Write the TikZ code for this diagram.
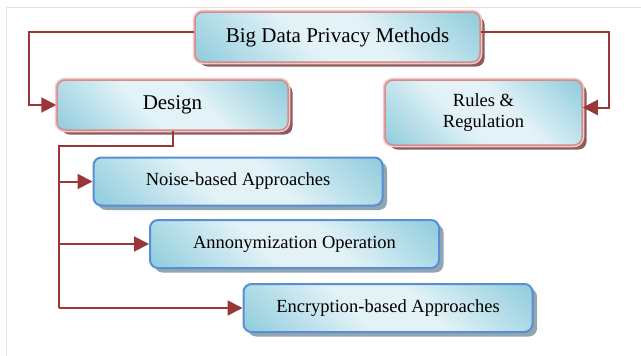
\documentclass[tikz,border=0pt]{standalone}
\usepackage{fontspec}
\setmainfont{Liberation Serif}
\usetikzlibrary{arrows.meta,shadows}

\definecolor{linkred}{RGB}{155,54,54}
\definecolor{framepink}{RGB}{245,218,218}
\definecolor{boxlight}{RGB}{226,242,247}
\definecolor{boxdark}{RGB}{150,207,222}
\definecolor{pinkrim}{RGB}{242,200,200}
\definecolor{pinkedge}{RGB}{212,140,140}
\definecolor{pinkshadow}{RGB}{140,92,92}
\definecolor{blueedge}{RGB}{88,142,216}
\definecolor{blueshadow}{RGB}{146,166,176}

\pgfdeclarehorizontalshading{boxfill}{100bp}{color(0bp)=(boxdark); color(17bp)=(boxdark); color(42bp)=(boxlight); color(58bp)=(boxlight); color(83bp)=(boxdark); color(100bp)=(boxdark)}

\tikzset{
  box/.style={rounded corners=8pt, inner sep=0pt, shading=boxfill, shading angle=45},
  headbox/.style={box, font=\fontsize{21}{24}\selectfont,
    drop shadow={shadow xshift=4.5pt, shadow yshift=-4.5pt, fill=pinkshadow, opacity=1},
    preaction={draw=pinkrim, line width=4.5pt}, draw=pinkedge, line width=1.5pt},
  subbox/.style={box, font=\fontsize{18.5}{21}\selectfont, minimum width=289pt, minimum height=48pt,
    drop shadow={shadow xshift=4.5pt, shadow yshift=-4.5pt, fill=blueshadow, opacity=1},
    draw=blueedge, line width=2pt},
  trunk/.style={draw=linkred, line width=2pt},
  link/.style={trunk, -{Triangle[length=15pt,width=15pt]}}
}

\begin{document}
\begin{tikzpicture}[x=1pt,y=-1pt]
  \useasboundingbox (0,0) rectangle (641,356);
  % page frame
  \draw[framepink, line width=1pt] (6,356) -- (6,7) -- (641,7);

  % upper level
  \node[headbox, minimum width=285pt, minimum height=50pt] (top) at (337.5,37) {Big Data Privacy Methods};
  \node[headbox, minimum width=231pt, minimum height=50pt] (design) at (172.5,105) {Design};
  \node[headbox, minimum width=197pt, minimum height=65pt, align=center,
        font=\fontsize{18.5}{21}\selectfont] (rules) at (483.5,112.5) {Rules \&\\Regulation};

  % design methods
  \node[subbox] (noise) at (238,181.5) {Noise-based Approaches};
  \node[subbox] (anon) at (294.5,244) {Annonymization Operation};
  \node[subbox] (crypt) at (388,308) {Encryption-based Approaches};

  \coordinate (L) at (29,105);
  \coordinate (R) at (609,107.5);
  \draw[link] ([yshift=5pt]top.west) -| (L) -- (design.west);
  \draw[link] ([yshift=5pt]top.east) -| (R) -- ([yshift=5pt]rules.east);

  \coordinate (T0) at (59,146);
  \coordinate (T3) at (59,308);
  \draw[trunk] (design.south) |- (T0) -- (T3);
  \draw[link] (T0 |- noise.west) -- (noise.west);
  \draw[link] (T0 |- anon.west) -- (anon.west);
  \draw[link] (T3) -- (crypt.west);
\end{tikzpicture}
\end{document}
